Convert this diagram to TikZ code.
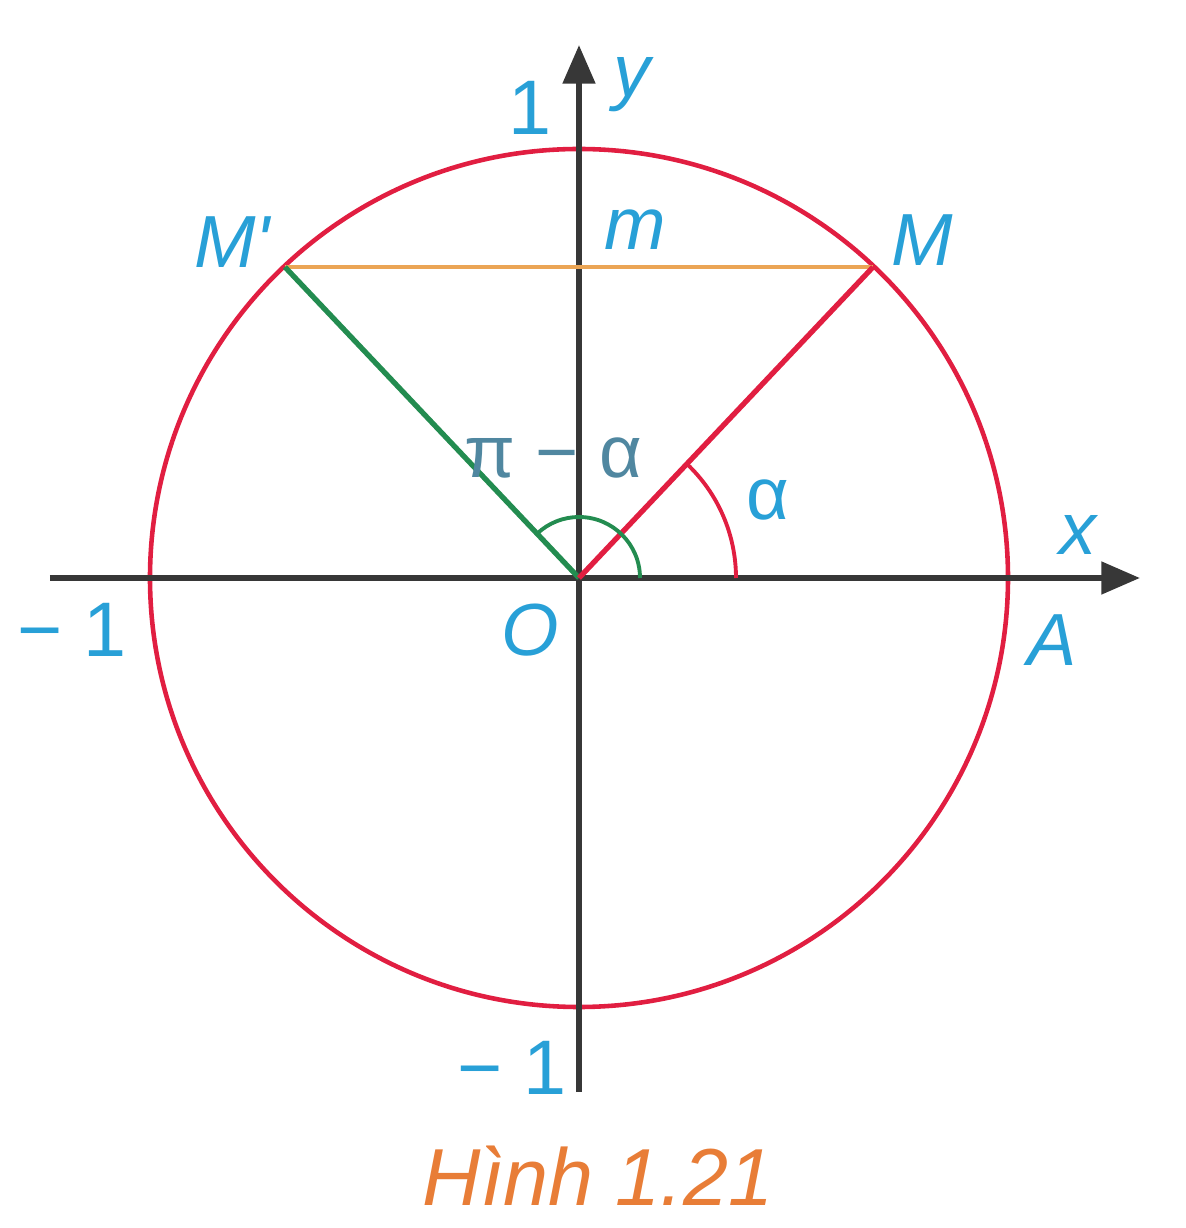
\documentclass[tikz,border=0pt]{standalone}
\usepackage{fontspec}
\setmainfont{Liberation Sans}
\usetikzlibrary{arrows.meta,calc}
\definecolor{lblue}{RGB}{40,160,215}
\definecolor{lgray}{RGB}{80,135,160}
\definecolor{cred}{RGB}{225,30,65}
\definecolor{cgreen}{RGB}{35,140,80}
\definecolor{corange}{RGB}{235,165,85}
\definecolor{caxis}{RGB}{55,55,55}
\definecolor{ctitle}{RGB}{232,125,55}
\tikzset{
  lbl/.style={text=lblue, font=\fontsize{21}{21}\selectfont\itshape, inner sep=0pt},
  num/.style={text=lblue, font=\fontsize{22}{22}\selectfont, inner sep=0pt},
  axisline/.style={draw=caxis, line width=1.7pt, -{Triangle[length=11pt,width=9pt]}},
}
\begin{document}
\begin{tikzpicture}[x=0.01cm,y=0.01cm]
% origin O at pixel (579,578); y up
\useasboundingbox (-579,-650) rectangle (606,578);
\coordinate (O) at (0,0);
\coordinate (M) at (46.6:428);
\coordinate (Mp) at (133.4:428);
\coordinate (xs) at (-529,0);
\coordinate (xe) at (561,0);
\coordinate (ys) at (0,-514);
\coordinate (ye) at (0,533);
% circle
\draw[cred, line width=1.3pt] (O) circle (429);
% axes
\draw[axisline] (xs) -- (xe);
\draw[axisline] (ys) -- (ye);
% segments
\draw[corange, line width=1.4pt] (Mp) -- (M);
\draw[cgreen, line width=1.5pt] (O) -- (Mp);
\draw[cred, line width=1.5pt] (O) -- (M);
% angle arcs
\draw[cred, line width=1.1pt] (157,0) arc[start angle=0, end angle=46.6, radius=157];
\draw[cgreen, line width=1.1pt] (61,0) arc[start angle=0, end angle=133.4, radius=61];
% labels
\node[num] (l1) at (-49,470) {1};
\node[lbl] (ly) at (53,493) {y};
\node[lbl] (lMp) at (-347,336) {M\textquotesingle};
\node[lbl] (lm) at (56,348) {m};
\node[lbl] (lM) at (343,338) {M};
\node[text=lgray, font=\fontsize{21}{21}\selectfont, inner sep=0pt] (lpa) at (-26,120) {π − α};
\node[text=lblue, font=\fontsize{21}{21}\selectfont, inner sep=0pt] (la) at (189,78) {α};
\node[lbl] (lx) at (499,43) {x};
\node[num] (lm1) at (-507,-52) {− 1};
\node[lbl] (lO) at (-49,-52) {O};
\node[lbl] (lA) at (473,-62) {A};
\node[num] (lm1b) at (-67,-490) {− 1};
\node[text=ctitle, font=\fontsize{23}{23}\selectfont\itshape, inner sep=0pt] (cap) at (19,-598) {Hình 1.21};
\end{tikzpicture}
\end{document}
